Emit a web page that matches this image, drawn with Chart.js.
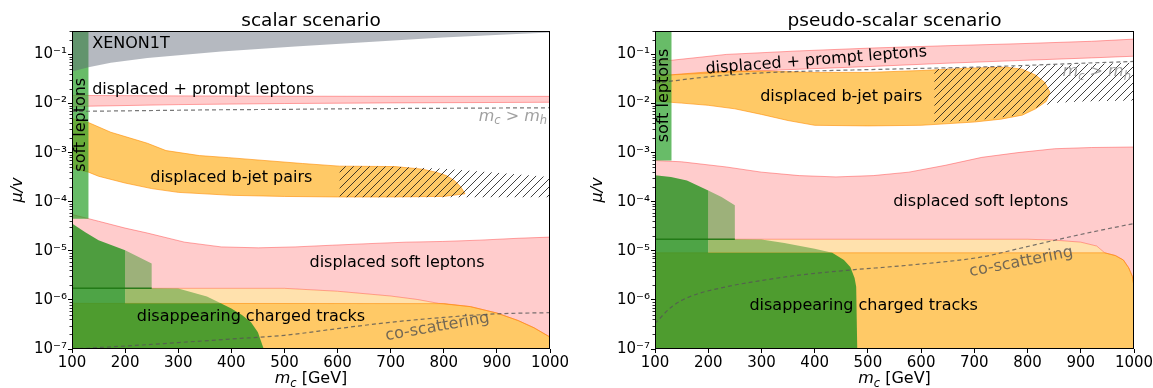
<!DOCTYPE html>
<html>
<head>
<meta charset="utf-8">
<title>scalar / pseudo-scalar scenario</title>
<script src="https://cdn.jsdelivr.net/npm/chart.js@4.4.1/dist/chart.umd.min.js"></script>
<style>
  html, body { margin: 0; padding: 0; background: #fff; }
  #wrap { position: relative; width: 1153px; height: 388px; overflow: hidden; }
  canvas { position: absolute; top: 0; }
</style>
</head>
<body>
<div id="wrap">
  <canvas id="scalarChart" width="576" height="388" style="left:0px"></canvas>
  <canvas id="pseudoChart" width="577" height="388" style="left:576px"></canvas>
</div>
<script>
const FONT = '"DejaVu Sans", sans-serif';
const Y_MIN = 1e-7, Y_MAX = 0.3;
const yDecades = [1e-7, 1e-6, 1e-5, 1e-4, 1e-3, 1e-2, 1e-1];

// ---- scalar scenario ----
const scXenonX = [100, 131, 173, 242, 381, 520, 659, 798, 937, 1000];
const scXenonLow = [0.045, 0.055, 0.068, 0.085, 0.115, 0.145, 0.18, 0.22, 0.26, 0.28];
const scBandX = [100, 131];
const scBandLow = 4.5e-5;
const scPromptX = [100, 300, 500, 700, 1000];
const scPromptHigh = [0.0146, 0.0143, 0.0141, 0.014, 0.014];
const scPromptLow = [0.0087, 0.0095, 0.0100, 0.0103, 0.0106];
const scHiggsX = [100, 200, 300, 400, 500, 600, 700, 800, 900, 1000];
const scHiggsY = [0.0069, 0.0071, 0.0073, 0.0075, 0.0076, 0.0078, 0.0079, 0.008, 0.0081, 0.0082];
const scBjetTopX = [100, 131, 173, 208, 242, 277, 340, 395, 534, 604, 708, 760, 785, 805, 820, 832, 840];
const scBjetTopY = [4.95e-3, 4.1e-3, 2.6e-3, 2.0e-3, 1.55e-3, 1.1e-3, 8.7e-4, 7.9e-4, 6.0e-4, 5.3e-4, 5.2e-4, 4.6e-4, 4.0e-4, 3.4e-4, 2.7e-4, 2.0e-4, 1.45e-4];
const scBjetLowX = [100, 131, 150, 200, 250, 300, 400, 500, 600, 700, 800, 840];
const scBjetLowY = [4.8e-4, 4.0e-4, 3.3e-4, 2.4e-4, 1.85e-4, 1.55e-4, 1.35e-4, 1.28e-4, 1.25e-4, 1.25e-4, 1.28e-4, 1.45e-4];
const scHatchX = [604, 700, 800, 900, 1000];
const scHatchHigh = [5.3e-4, 5.2e-4, 4.7e-4, 3.9e-4, 3.2e-4];
const scHatchLow = [1.23e-4, 1.23e-4, 1.23e-4, 1.23e-4, 1.23e-4];
const scSoftTopX = [100, 150, 200, 242, 312, 381, 451, 520, 590, 659, 729, 798, 868, 940, 1000];
const scSoftTopY = [5.5e-5, 4.0e-5, 2.9e-5, 2.3e-5, 1.5e-5, 1.2e-5, 1.15e-5, 1.2e-5, 1.3e-5, 1.4e-5, 1.5e-5, 1.55e-5, 1.65e-5, 1.8e-5, 1.9e-5];
const scSoftLowX = [100, 500, 600, 700, 750, 790, 850, 900, 940, 970, 1000];
const scSoftLowY = [1.72e-6, 1.72e-6, 1.5e-6, 1.2e-6, 1.02e-6, 8.5e-7, 7.3e-7, 5.4e-7, 3.8e-7, 2.7e-7, 1.75e-7];
const scPaleX = [200, 500, 600, 700, 750, 790];
const scPaleTop = [1.72e-6, 1.72e-6, 1.5e-6, 1.2e-6, 1.02e-6, 8.5e-7];
const scPaleLow = 8.5e-7;
const scLowOrangeX = [100, 800, 850, 900, 940, 970, 1000];
const scLowOrangeY = [8.5e-7, 8.4e-7, 7.3e-7, 5.4e-7, 3.8e-7, 2.7e-7, 1.75e-7];
const scDarkX = [100, 100, 125, 150, 200, 200, 380, 400, 420, 437, 450, 461];
const scDarkY = [1e-7, 3.6e-5, 2.4e-5, 1.64e-5, 1.03e-5, 8.5e-7, 8.5e-7, 6.7e-7, 4.9e-7, 3.5e-7, 2.2e-7, 1e-7];
const scLightX = [200, 200, 250, 250, 300, 354, 380];
const scLightY = [8.5e-7, 1.03e-5, 5.5e-6, 1.72e-6, 1.7e-6, 1.17e-6, 8.5e-7];
const scGreenLineX = [100, 250];
const scGreenLineY = [1.72e-6, 1.72e-6];
const scCoscatX = [100, 200, 300, 400, 500, 600, 700, 800, 900, 1000];
const scCoscatY = [1e-7, 1.15e-7, 1.35e-7, 1.6e-7, 1.9e-7, 2.6e-7, 3.5e-7, 4.4e-7, 5.2e-7, 5.5e-7];

// ---- pseudo-scalar scenario ----
const psBandX = [100, 131];
const psBandLow = 6.9e-4;
const psPromptTopX = [100, 131, 234, 371, 508, 645, 782, 920, 1000];
const psPromptTopY = [0.075, 0.076, 0.1, 0.118, 0.135, 0.15, 0.165, 0.185, 0.205];
const psPromptLowX = [100, 234, 371, 508, 645, 782, 920, 1000];
const psPromptLowY = [0.037, 0.043, 0.05, 0.057, 0.066, 0.075, 0.085, 0.092];
const psHiggsX = [100, 200, 300, 400, 500, 600, 700, 800, 900, 1000];
const psHiggsY = [0.026, 0.035, 0.042, 0.046, 0.049, 0.052, 0.055, 0.06, 0.066, 0.072];
const psBjetTopX = [100, 150, 200, 250, 300, 400, 500, 600, 700, 760, 790, 815, 832, 842];
const psBjetTopY = [0.036, 0.04, 0.044, 0.046, 0.046, 0.043, 0.043, 0.047, 0.053, 0.055, 0.05, 0.038, 0.027, 0.017];
const psBjetLowX = [100, 150, 200, 250, 300, 350, 400, 500, 600, 700, 750, 790, 815, 835, 842];
const psBjetLowY = [0.0112, 0.0102, 0.0092, 0.0078, 0.006, 0.0045, 0.0036, 0.0035, 0.0036, 0.0042, 0.0048, 0.0058, 0.0078, 0.011, 0.017];
const psHatchTopX = [625, 700, 800, 900, 1000];
const psHatchTopY = [0.05, 0.054, 0.058, 0.063, 0.068];
const psHatchLowX = [625, 700, 780, 820, 850, 900, 1000];
const psHatchLowY = [0.0042, 0.0045, 0.0057, 0.0085, 0.0103, 0.011, 0.0115];
const psSoftTopX = [100, 150, 234, 300, 371, 440, 510, 577, 645, 714, 782, 851, 920, 1000];
const psSoftTopY = [6.9e-4, 6.5e-4, 5.1e-4, 4.0e-4, 3.4e-4, 3.2e-4, 3.4e-4, 4.0e-4, 5.5e-4, 8.0e-4, 1.0e-3, 1.2e-3, 1.27e-3, 1.3e-3];
const psSoftLowX = [100, 800, 850, 900, 930, 945, 965, 980, 990, 997, 1000];
const psSoftLowY = [1.72e-5, 1.72e-5, 1.65e-5, 1.5e-5, 1.25e-5, 9.1e-6, 8e-6, 6.5e-6, 4.5e-6, 3e-6, 1.85e-6];
const psPaleX = [200, 800, 850, 900, 930, 945];
const psPaleTop = [1.72e-5, 1.72e-5, 1.65e-5, 1.5e-5, 1.25e-5, 9.1e-6];
const psPaleLow = 9.1e-6;
const psLowOrangeX = [100, 945, 965, 980, 990, 997, 1000];
const psLowOrangeY = [9.1e-6, 9.1e-6, 8e-6, 6.5e-6, 4.5e-6, 3e-6, 1.85e-6];
const psDarkX = [100, 100, 130, 160, 200, 200, 433, 455, 467, 475, 478, 480];
const psDarkY = [1e-7, 3.45e-4, 3.2e-4, 2.7e-4, 1.7e-4, 9.1e-6, 9.1e-6, 6.5e-6, 4.7e-6, 2.8e-6, 1.85e-6, 1e-7];
const psLightX = [200, 200, 225, 250, 250, 300, 343, 400, 433];
const psLightY = [9.1e-6, 1.7e-4, 1.25e-4, 8.5e-5, 1.72e-5, 1.7e-5, 1.45e-5, 1.1e-5, 9.1e-6];
const psGreenLineX = [100, 250];
const psGreenLineY = [1.72e-5, 1.72e-5];
const psCoscatX = [100, 131, 165, 234, 302, 371, 460, 577, 714, 782, 851, 920, 1000];
const psCoscatY = [3.3e-7, 7.2e-7, 1.16e-6, 1.85e-6, 2.5e-6, 3.2e-6, 4.0e-6, 5.1e-6, 7.5e-6, 1.1e-5, 1.64e-5, 2.4e-5, 3.6e-5];

// text annotations (data coordinates)
const GRAY_TXT = 'rgba(80,80,80,0.8)';
const scLabels = [
  { text: 'XENON1T', x: 138, y: 0.168, align: 'left' },
  { text: 'displaced + prompt leptons', x: 138, y: 0.019, align: 'left' },
  { text: 'displaced b-jet pairs', x: 400, y: 3.0e-4 },
  { text: 'displaced soft leptons', x: 712, y: 5.7e-6 },
  { text: 'disappearing charged tracks', x: 437, y: 4.5e-7 },
  { text: 'soft leptons', x: 116, y: 3.7e-3, rot: -90 },
  { text: 'co-scattering', x: 788, y: 2.8e-7, rot: -10, color: GRAY_TXT }
];
const psLabels = [
  { text: 'displaced + prompt leptons', x: 403, y: 0.075, rot: -4.5 },
  { text: 'displaced b-jet pairs', x: 450, y: 0.0134 },
  { text: 'displaced soft leptons', x: 712, y: 9.9e-5 },
  { text: 'disappearing charged tracks', x: 492, y: 7.5e-7 },
  { text: 'soft leptons', x: 116, y: 0.0146, rot: -90 },
  { text: 'co-scattering', x: 788, y: 5.9e-6, rot: -11, color: GRAY_TXT }
];

const C = {
  gray: 'rgba(90,100,115,0.45)',
  pink: 'rgba(255,0,0,0.2)', pinkEdge: 'rgba(255,60,60,0.45)',
  orange: 'rgba(255,165,0,0.6)', orangeEdge: 'rgba(255,140,0,0.6)',
  pale: 'rgba(255,170,20,0.35)',
  band: 'rgba(40,160,40,0.7)',
  dark: 'rgba(47,148,38,0.85)',
  light: 'rgba(60,150,40,0.5)',
  line: 'rgba(30,120,20,0.9)',
  dash: 'rgba(85,85,85,0.8)'
};

function makeHatch() {
  const c = document.createElement('canvas');
  c.width = 8; c.height = 8;
  const g = c.getContext('2d');
  g.strokeStyle = 'rgba(20,20,20,0.8)';
  g.lineWidth = 1;
  g.beginPath();
  g.moveTo(0, 8); g.lineTo(8, 0);
  g.moveTo(-1, 1); g.lineTo(1, -1);
  g.moveTo(7, 9); g.lineTo(9, 7);
  g.stroke();
  return g.createPattern(c, 'repeat');
}
const HATCH = makeHatch();

function outline(xs, ys) { return xs.map((x, i) => ({ x, y: ys[i] })); }
function poly(ux, uy, lx, ly) {
  const pts = outline(ux, uy);
  for (let i = lx.length - 1; i >= 0; i--) pts.push({ x: lx[i], y: ly[i] });
  return pts;
}
function ends(xs) { return [xs[0], xs[xs.length - 1]]; }
function area(points, bg, edge, width) {
  return { data: points, fill: 'shape', backgroundColor: bg, borderColor: edge || 'rgba(0,0,0,0)',
           borderWidth: width || 0, pointRadius: 0, tension: 0 };
}
function curve(xs, ys, color, dash, width) {
  return { data: outline(xs, ys), fill: false, borderColor: color, borderDash: dash, borderWidth: width,
           pointRadius: 0, cubicInterpolationMode: 'monotone' };
}

const scalarLayers = [
  area(poly(scSoftTopX, scSoftTopY, scSoftLowX, scSoftLowY), C.pink, C.pinkEdge, 1),
  area(poly(scPaleX, scPaleTop, ends(scPaleX), [scPaleLow, scPaleLow]), C.pale),
  area(poly(scLowOrangeX, scLowOrangeY, [100, 1000], [Y_MIN, Y_MIN]), C.orange, C.orangeEdge, 1),
  area(poly(scPromptX, scPromptHigh, scPromptX, scPromptLow), C.pink, C.pinkEdge, 1),
  area(poly(scBjetTopX, scBjetTopY, scBjetLowX, scBjetLowY), C.orange, C.orangeEdge, 1),
  area(poly(scHatchX, scHatchHigh, scHatchX, scHatchLow), HATCH),
  area(poly(scBandX, [Y_MAX, Y_MAX], scBandX, [scBandLow, scBandLow]), C.band),
  area(poly(scXenonX, scXenonX.map(() => Y_MAX), scXenonX, scXenonLow), C.gray),
  area(outline(scDarkX, scDarkY), C.dark),
  area(outline(scLightX, scLightY), C.light),
  curve(scGreenLineX, scGreenLineY, C.line, [], 1.5),
  curve(scHiggsX, scHiggsY, C.dash, [4, 3], 1.2),
  curve(scCoscatX, scCoscatY, C.dash, [4, 3], 1.2)
];

const pseudoLayers = [
  area(poly(psSoftTopX, psSoftTopY, psSoftLowX, psSoftLowY), C.pink, C.pinkEdge, 1),
  area(poly(psPaleX, psPaleTop, ends(psPaleX), [psPaleLow, psPaleLow]), C.pale),
  area(poly(psLowOrangeX, psLowOrangeY, [100, 1000], [Y_MIN, Y_MIN]), C.orange, C.orangeEdge, 1),
  area(poly(psPromptTopX, psPromptTopY, psPromptLowX, psPromptLowY), C.pink, C.pinkEdge, 1),
  area(poly(psBjetTopX, psBjetTopY, psBjetLowX, psBjetLowY), C.orange, C.orangeEdge, 1),
  area(poly(psHatchTopX, psHatchTopY, psHatchLowX, psHatchLowY), HATCH),
  area(poly(psBandX, [Y_MAX, Y_MAX], psBandX, [psBandLow, psBandLow]), C.band),
  area(outline(psDarkX, psDarkY), C.dark),
  area(outline(psLightX, psLightY), C.light),
  curve(psGreenLineX, psGreenLineY, C.line, [], 1.5),
  curve(psHiggsX, psHiggsY, C.dash, [4, 3], 1.2),
  curve(psCoscatX, psCoscatY, C.dash, [4, 3], 1.2)
];

const SUP = { '-': '\u207B', '0': '\u2070', '1': '\u00B9', '2': '\u00B2', '3': '\u00B3', '4': '\u2074',
              '5': '\u2075', '6': '\u2076', '7': '\u2077', '8': '\u2078', '9': '\u2079' };
function powLabel(v) {
  const e = Math.round(Math.log10(v));
  return '10' + String(e).split('').map(c => SUP[c]).join('');
}

function drawMath(ctx, pieces, cx, baseY, color) {
  const fontOf = p => `${p[1] ? 'italic ' : ''}${p[2] ? 11.5 : 16}px ${FONT}`;
  let w = 0;
  pieces.forEach(p => { ctx.font = fontOf(p); w += ctx.measureText(p[0]).width; });
  let x = cx - w / 2;
  ctx.fillStyle = color; ctx.textAlign = 'left'; ctx.textBaseline = 'alphabetic';
  pieces.forEach(p => {
    ctx.font = fontOf(p);
    ctx.fillText(p[0], x, baseY + (p[2] ? 3.5 : 0));
    x += ctx.measureText(p[0]).width;
  });
}

function drawLabel(ctx, sx, sy, l) {
  ctx.save();
  ctx.translate(sx.getPixelForValue(l.x), sy.getPixelForValue(l.y));
  if (l.rot) ctx.rotate(l.rot * Math.PI / 180);
  ctx.font = `16px ${FONT}`;
  ctx.fillStyle = l.color || '#000';
  ctx.textAlign = l.align || 'center';
  ctx.textBaseline = 'middle';
  ctx.fillText(l.text, 0, 0);
  ctx.restore();
}

function decorPlugin(m) {
  return {
    id: 'decor',
    afterDraw(chart) {
      const ctx = chart.ctx, a = chart.chartArea, sx = chart.scales.x, sy = chart.scales.y;
      ctx.save();
      m.labels.forEach(l => drawLabel(ctx, sx, sy, l));
      drawMath(ctx, [['m', 1, 0], ['c', 1, 1], [' > ', 0, 0], ['m', 1, 0], ['h', 1, 1]],
               sx.getPixelForValue(m.mh[0]), sy.getPixelForValue(m.mh[1]) + 5, 'rgba(150,150,150,0.9)');
      // frame
      ctx.strokeStyle = '#000'; ctx.lineWidth = 1;
      ctx.strokeRect(a.left + 0.5, a.top + 0.5, a.right - a.left - 1, a.bottom - a.top - 1);
      // minor log ticks
      ctx.beginPath(); ctx.lineWidth = 0.8;
      yDecades.forEach(d => {
        for (let k = 2; k <= 9; k++) {
          const v = k * d;
          if (v > Y_MAX * 1.0001) break;
          const py = Math.round(sy.getPixelForValue(v)) + 0.5;
          ctx.moveTo(a.left - 2.5, py); ctx.lineTo(a.left, py);
        }
      });
      ctx.stroke();
      // title
      ctx.fillStyle = '#000'; ctx.font = `18.5px ${FONT}`;
      ctx.textAlign = 'center'; ctx.textBaseline = 'alphabetic';
      ctx.fillText(m.title, (a.left + a.right) / 2, 26);
      // y title
      ctx.save();
      ctx.translate(a.left - m.yTitleGap, (a.top + a.bottom) / 2);
      ctx.rotate(-Math.PI / 2);
      ctx.font = `italic 16px ${FONT}`; ctx.textBaseline = 'middle'; ctx.textAlign = 'center';
      ctx.fillText('\u03BC/v', 0, 0);
      ctx.restore();
      // x title
      drawMath(ctx, [['m', 1, 0], ['c', 1, 1], [' [GeV]', 0, 0]], (a.left + a.right) / 2, 383, '#000');
      ctx.restore();
    }
  };
}

function makeChart(id, m) {
  const n = m.layers.length;
  const grid = { display: true, drawOnChartArea: false, drawTicks: true, tickLength: 4, tickColor: '#000', tickWidth: 1 };
  return new Chart(document.getElementById(id), {
    type: 'line',
    data: { datasets: m.layers.map((d, i) => Object.assign({ order: n - i }, d)) },
    options: {
      responsive: false,
      devicePixelRatio: 1,
      animation: false,
      events: [],
      layout: { padding: { top: 31, right: m.padRight, left: 0, bottom: 0 } },
      plugins: { legend: { display: false }, tooltip: { enabled: false }, title: { display: false } },
      scales: {
        x: {
          type: 'linear', min: 100, max: 1000,
          ticks: { stepSize: 100, autoSkip: false, maxRotation: 0, color: '#000', padding: 1,
                   font: { family: FONT, size: 15 }, callback: v => String(v) },
          grid: grid,
          border: { display: false },
          afterFit(s) { s.height = 39; s.paddingLeft = 0; s.paddingRight = 0; }
        },
        y: {
          type: 'logarithmic', min: Y_MIN, max: Y_MAX,
          ticks: { autoSkip: false, color: '#000', padding: 1, font: { family: FONT, size: 15 },
                   callback: v => powLabel(v) },
          grid: grid,
          border: { display: false },
          afterBuildTicks(s) { s.ticks = yDecades.map(v => ({ value: v })); },
          afterFit(s) { s.width = m.yWidth; s.paddingTop = 0; s.paddingBottom = 0; }
        }
      }
    },
    plugins: [decorPlugin(m)]
  });
}

makeChart('scalarChart', {
  layers: scalarLayers, labels: scLabels, mh: [930, 0.0057],
  title: 'scalar scenario', yWidth: 72, padRight: 26, yTitleGap: 54
});
makeChart('pseudoChart', {
  layers: pseudoLayers, labels: psLabels, mh: [930, 0.0455],
  title: 'pseudo-scalar scenario', yWidth: 79, padRight: 19, yTitleGap: 57
});
</script>
</body>
</html>
